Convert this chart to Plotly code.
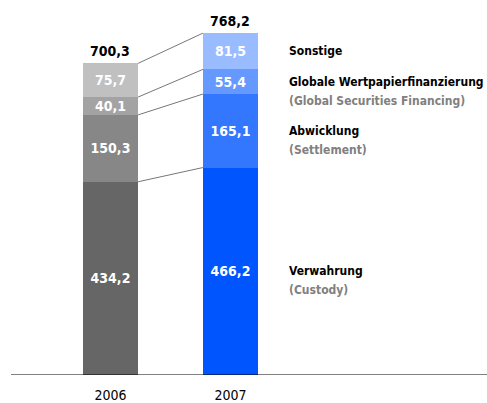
import plotly.graph_objects as go

# Umsatzerlöse nach Bereichen (Mio. €)
years = ['2006', '2007']
segments = ['Verwahrung', 'Abwicklung', 'Globale Wertpapierfinanzierung', 'Sonstige']
subtitles = ['(Custody)', '(Settlement)', '(Global Securities Financing)', '']
values_2006 = [434.2, 150.3, 40.1, 75.7]
values_2007 = [466.2, 165.1, 55.4, 81.5]
totals = [700.3, 768.2]

grays = ['#666666', '#878787', '#a3a3a3', '#c0c0c0']
blues = ['#0055ff', '#3377ff', '#6699ff', '#99bbff']

FONT = 'DejaVu Sans Condensed'
fmt = lambda v: f'{v:.1f}'.replace('.', ',')

xpos = [0, 1]
bar_w = 0.46

fig = go.Figure()
for i, name in enumerate(segments):
    fig.add_trace(go.Bar(
        x=xpos, y=[values_2006[i], values_2007[i]], width=bar_w,
        marker=dict(color=[grays[i], blues[i]], line=dict(width=0)),
        text=[fmt(values_2006[i]), fmt(values_2007[i])],
        textposition='inside', insidetextanchor='middle',
        textfont=dict(family=FONT, size=14, color='white', weight='bold'),
        hoverinfo='skip', showlegend=False, name=name))

# connecting lines between segment tops
cum06, cum07 = 0, 0
for i in range(len(segments)):
    cum06 += values_2006[i]
    cum07 += values_2007[i]
    fig.add_trace(go.Scatter(
        x=[xpos[0] + bar_w / 2, xpos[1] - bar_w / 2], y=[cum06, cum07],
        mode='lines', line=dict(color='#777777', width=1),
        hoverinfo='skip', showlegend=False))

# totals
for x, t in zip(xpos, totals):
    fig.add_annotation(x=x, y=t, text=fmt(t), showarrow=False, yanchor='bottom', yshift=2,
                       font=dict(family=FONT, size=14, color='black', weight='bold'))

# labels right of the 2007 bar
cum = 0
for i, name in enumerate(segments):
    mid = cum + values_2007[i] / 2
    cum += values_2007[i]
    fig.add_annotation(x=1.47, y=mid, text=name, showarrow=False, xanchor='left',
                       yanchor='middle', font=dict(family=FONT, size=12, color='black', weight='bold'))
    if subtitles[i]:
        fig.add_annotation(x=1.47, y=mid, text=subtitles[i], showarrow=False, xanchor='left',
                           yanchor='middle', yshift=-19,
                           font=dict(family=FONT, size=12, color='#808080', weight='bold'))

fig.update_layout(
    barmode='stack', width=487, height=403,
    margin=dict(l=11, r=0, t=19, b=25),
    paper_bgcolor='white', plot_bgcolor='white',
    uniformtext=dict(minsize=14, mode='show'),
    xaxis=dict(range=[-0.829, 3.1375], tickvals=xpos, ticktext=years, showgrid=False,
               zeroline=False, showline=False, ticks='', ticklabelstandoff=10,
               tickfont=dict(family=FONT, size=14, color='black')),
    yaxis=dict(range=[0, 800], visible=False, fixedrange=True),
)
fig.add_shape(type='line', xref='paper', yref='y', x0=0, x1=1, y0=0, y1=0,
              line=dict(color='black', width=1))

fig.write_html('out.html', config={'displayModeBar': False},
               post_script="document.body.style.margin='0';")
